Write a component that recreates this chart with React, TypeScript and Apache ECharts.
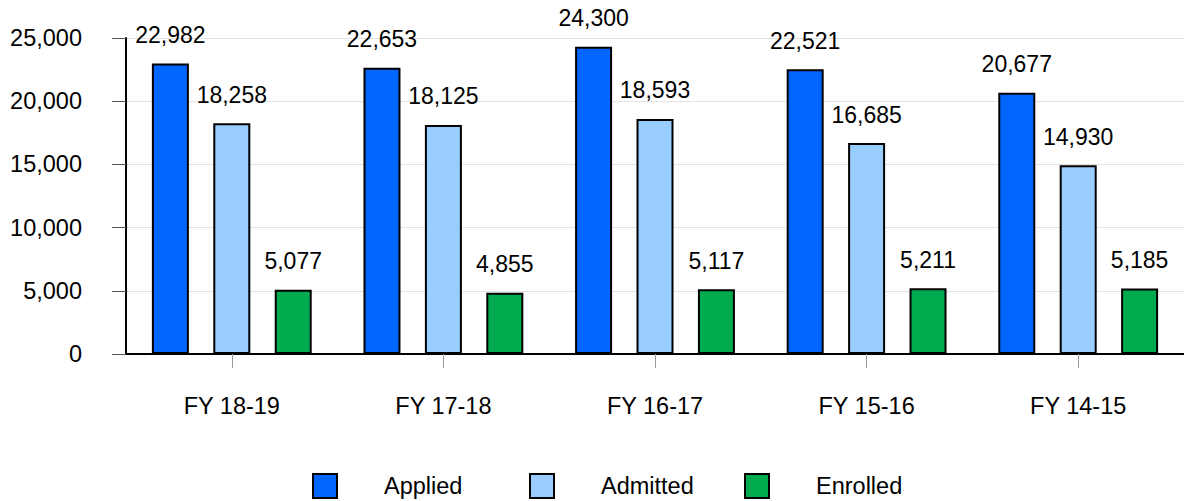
import React, { useEffect, useRef } from "react";
import * as echarts from "echarts";

const categories = ["FY 18-19", "FY 17-18", "FY 16-17", "FY 15-16", "FY 14-15"];
const applied = [22982, 22653, 24300, 22521, 20677];
const admitted = [18258, 18125, 18593, 16685, 14930];
const enrolled = [5077, 4855, 5117, 5211, 5185];
const seriesNames = ["Applied", "Admitted", "Enrolled"];
const colors = ["#0066FF", "#99CCFF", "#00AA4F"];

const FONT = "'Liberation Sans', Arial, sans-serif";

export default function App() {
  const ref = useRef<HTMLDivElement>(null);
  useEffect(() => {
    if (!ref.current) return;
    const chart = echarts.init(ref.current, undefined, { renderer: "svg" });
    const fmt = (v: number) => v.toLocaleString("en-US");
    const datasets = [applied, admitted, enrolled];
    const legendLefts = [312, 529, 744];
    chart.setOption({
      animation: false,
      textStyle: { fontFamily: FONT },
      grid: { left: 126, right: -3, top: 38, bottom: 147, containLabel: false },
      legend: seriesNames.map((n, i) => ({
        data: [n],
        left: legendLefts[i],
        top: 473,
        padding: 0,
        icon: "rect",
        itemWidth: 24,
        itemHeight: 24,
        selectedMode: false,
        formatter: (name: string) => "{t|" + name + "}",
        textStyle: {
          fontSize: 23.5,
          color: "#000",
          fontFamily: FONT,
          rich: { t: { fontSize: 23.5, color: "#000", fontFamily: FONT, padding: [0, 0, 0, 42] } },
        },
      })),
      xAxis: {
        type: "category",
        data: categories,
        axisLine: { lineStyle: { color: "#000", width: 2 } },
        axisTick: { show: true, alignWithLabel: true, length: 14, lineStyle: { color: "#999" } },
        axisLabel: { fontSize: 23.5, color: "#000", margin: 40, fontFamily: FONT },
      },
      yAxis: {
        type: "value",
        min: 0,
        max: 25000,
        interval: 5000,
        axisLine: { show: true, lineStyle: { color: "#000", width: 2 } },
        axisTick: { show: true, length: 14, lineStyle: { color: "#555" } },
        splitLine: { lineStyle: { color: "#e3e3e3" } },
        axisLabel: { fontSize: 23.5, color: "#000", margin: 44, fontFamily: FONT, formatter: (v: number) => fmt(v) },
      },
      series: seriesNames.map((n, i) => ({
        name: n,
        type: "bar",
        data: datasets[i],
        barWidth: 37,
        barGap: "66%",
        itemStyle: { color: colors[i], borderColor: "#000", borderWidth: 2 },
        label: {
          show: true,
          position: "top",
          distance: 17,
          fontSize: 23,
          color: "#000",
          fontFamily: FONT,
          formatter: (p: any) => fmt(p.value),
        },
      })),
    });
    return () => chart.dispose();
  }, []);
  return (
    <div
      ref={ref}
      style={{ position: "fixed", left: 0, top: 0, width: 1184, height: 501, background: "#fff" }}
    />
  );
}
